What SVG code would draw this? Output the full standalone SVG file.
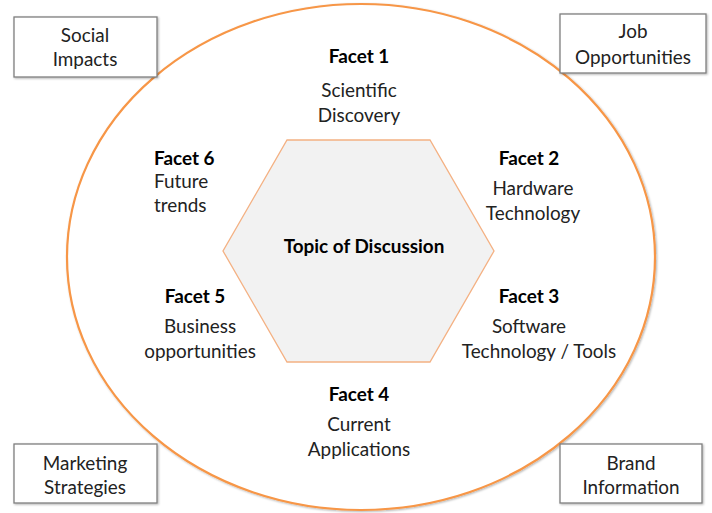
<svg xmlns="http://www.w3.org/2000/svg" width="712" height="513" viewBox="0 0 712 513">
<style>
text{font-family:Lato,"Open Sans","Liberation Sans",sans-serif;font-size:18.9px;fill:#222;text-anchor:middle}
.b{font-weight:bold;fill:#000}
.box{fill:#fff;stroke:#7f7f7f;stroke-width:1.3}
.l{text-anchor:start}
</style>
<defs>
<filter id="sh" x="-10%" y="-10%" width="130%" height="130%">
<feDropShadow dx="1" dy="1" stdDeviation="1" flood-color="#000" flood-opacity="0.3"/>
</filter>
</defs>
<rect width="712" height="513" fill="#fff"/>
<g id="outer">
<ellipse cx="361" cy="257" rx="294" ry="253" fill="#fff" stroke="#f79646" stroke-width="2.2" filter="url(#sh)"/>
</g>
<g id="social"><rect class="box" x="14" y="17" width="143" height="60" filter="url(#sh)"/><text x="85" y="42">Social</text><text x="85" y="66">Impacts</text></g>
<g id="job"><rect class="box" x="560" y="14" width="146" height="59" filter="url(#sh)"/><text x="633" y="38">Job</text><text x="633" y="64">Opportunities</text></g>
<g id="marketing"><rect class="box" x="14" y="444" width="143" height="59" filter="url(#sh)"/><text x="85" y="470">Marketing</text><text x="85" y="494">Strategies</text></g>
<g id="brand"><rect class="box" x="560" y="444" width="142" height="59" filter="url(#sh)"/><text x="631" y="470">Brand</text><text x="631" y="494">Information</text></g>
<g id="topic">
<polygon points="287,140 430,140 494,251 430,362 287,362 223,251" fill="#f2f2f2" stroke="#f4b183" stroke-width="1.3"/>
<text class="b" x="364" y="253">Topic of Discussion</text>
</g>
<g id="facet1"><text class="b" x="359" y="63">Facet 1</text><text x="359" y="97">Scientific</text><text x="359" y="122">Discovery</text></g>
<g id="facet2"><text class="b" x="529" y="165">Facet 2</text><text x="533" y="195">Hardware</text><text x="533" y="220">Technology</text></g>
<g id="facet3"><text class="b" x="529" y="303">Facet 3</text><text x="529" y="333">Software</text><text x="539" y="358">Technology / Tools</text></g>
<g id="facet4"><text class="b" x="359" y="401">Facet 4</text><text x="359" y="431">Current</text><text x="359" y="456">Applications</text></g>
<g id="facet5"><text class="b" x="195" y="303">Facet 5</text><text x="200" y="333">Business</text><text x="200" y="358">opportunities</text></g>
<g id="facet6"><text class="b l" x="154" y="165">Facet 6</text><text class="l" x="154" y="188">Future</text><text class="l" x="154" y="212">trends</text></g>
<g id="connectors"></g>
</svg>
